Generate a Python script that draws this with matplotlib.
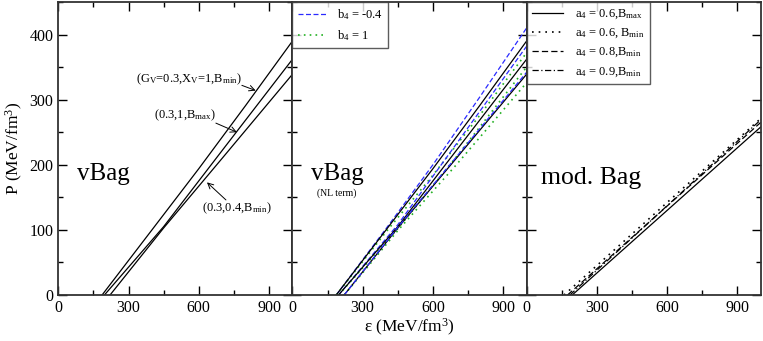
import matplotlib
matplotlib.use("Agg")
import matplotlib.pyplot as plt
from matplotlib.ticker import MultipleLocator

plt.rcParams['font.family'] = ['Liberation Serif', 'DejaVu Serif']
plt.rcParams['mathtext.fontset'] = 'custom'
plt.rcParams['mathtext.rm'] = 'Liberation Serif'
plt.rcParams['mathtext.it'] = 'Liberation Serif:italic'

# ---------------- data ----------------
# Panel 1: vBag
epsA = [187, 400, 600, 800, 1000]
PA = [0, 100, 194, 291, 390]
epsB = [197, 450, 700, 1000]
PB = [0, 105, 222, 362]
epsC = [221, 450, 700, 1000]
PC = [0, 103, 210, 339]

# Panel 2: vBag (NL term)
PA_blue = [0, 102, 200, 304, 410]
PA_green = [0, 97, 184, 276, 372]
PB_blue = [0, 108, 232, 382]
PB_green = [0, 102, 212, 350]
PC_blue = [0, 104, 212, 342]
PC_green = [0, 99, 200, 326]

# Panel 3: mod. Bag
eps_m1 = [195, 1000]; P_m1 = [0, 258]   # a4=0.6, Bmax (solid)
eps_m2 = [160, 1000]; P_m2 = [0, 271]   # a4=0.6, Bmin (dotted)
eps_m3 = [175, 1000]; P_m3 = [0, 265]   # a4=0.8, Bmin (dashed)
eps_m4 = [185, 1000]; P_m4 = [0, 269]   # a4=0.9, Bmin (dash-dot)

xticks = [0, 300, 600, 900]
yticks = [0, 100, 200, 300, 400]

fig = plt.figure(figsize=(7.63, 3.41), dpi=100)
fig.subplots_adjust(left=58.3/763, right=760.7/763, bottom=46/341, top=339/341, wspace=0)
axs = fig.subplots(1, 3, sharey=True)

for ax in axs:
    ax.set_xlim(0, 1000)
    ax.set_ylim(0, 450)
    ax.xaxis.set_major_locator(MultipleLocator(300))
    ax.xaxis.set_minor_locator(MultipleLocator(150))
    ax.yaxis.set_major_locator(MultipleLocator(100))
    ax.yaxis.set_minor_locator(MultipleLocator(50))
    ax.tick_params(which='both', direction='in', top=True, right=True, labelsize=11.5, colors='black')
    ax.tick_params(which='major', length=6.5, width=1.0)
    ax.tick_params(which='minor', length=3.6, width=1.0)
    ax.set_xticks(xticks)
    for s in ax.spines.values():
        s.set_linewidth(1.3)
        s.set_color('#333333')

ax1, ax2, ax3 = axs
ax1.set_yticks(yticks)
ax1.tick_params(axis='y', labelleft=True)
ax2.tick_params(axis='y', labelleft=False)
ax3.tick_params(axis='y', labelleft=False)

lw = 0.9
# Panel 1
ax1.plot(epsA, PA, color='black', lw=lw)
ax1.plot(epsB, PB, color='black', lw=lw)
ax1.plot(epsC, PC, color='black', lw=lw)
ax1.text(80, 186, 'vBag', fontsize=18, va='center', ha='left')
ax1.set_ylabel('P (MeV/fm$^3$)', fontsize=12.5, labelpad=3)

arrow_kw = dict(arrowstyle='->', color='black', lw=0.7, shrinkA=0, shrinkB=0)
ax1.annotate('', xy=(843, 314), xytext=(784, 322), arrowprops=arrow_kw)
ax1.text(782, 331, '(G$_{\\rm V}$=0.3,X$_{\\rm V}$=1,B$_{\\rm min}$)', fontsize=9, ha='right', va='center')
ax1.annotate('', xy=(763, 250), xytext=(673, 264), arrowprops=arrow_kw)
ax1.text(673, 276, '(0.3,1,B$_{\\rm max}$)', fontsize=9, ha='right', va='center')
ax1.annotate('', xy=(635, 173), xytext=(716, 146), arrowprops=arrow_kw)
ax1.text(612, 133, '(0.3,0.4,B$_{\\rm min}$)', fontsize=9, ha='left', va='center')

# Panel 2
blue = '#2a2aff'
green = '#22b022'
lb, = ax2.plot(epsA, PA_blue, color=blue, lw=lw, ls=(0, (4, 2)))
lg, = ax2.plot(epsA, PA_green, color=green, lw=1.2, ls=(0, (1, 2.5)))
ax2.plot(epsA, PA, color='black', lw=lw)
ax2.plot(epsB, PB_blue, color=blue, lw=lw, ls=(0, (4, 2)))
ax2.plot(epsB, PB_green, color=green, lw=1.2, ls=(0, (1, 2.5)))
ax2.plot(epsB, PB, color='black', lw=lw)
ax2.plot(epsC, PC_green, color=green, lw=1.2, ls=(0, (1, 2.5)))
ax2.plot(epsC, PC, color='black', lw=lw)
ax2.plot(epsC, PC_blue, color=blue, lw=lw, ls=(0, (4, 2)))
ax2.text(80, 186, 'vBag', fontsize=18, va='center', ha='left')
ax2.text(190, 156, '(NL term)', fontsize=7, va='center', ha='center')
leg2 = ax2.legend([lb, lg], ['b$_4$ = -0.4', 'b$_4$ = 1'], loc='upper left',
                  bbox_to_anchor=(0, 1), fontsize=9, frameon=True, fancybox=False,
                  edgecolor='#333333', handlelength=2.3, handletextpad=0.8,
                  borderaxespad=0, borderpad=0.45, labelspacing=0.45)
leg2.get_frame().set_linewidth(1.0)
ax2.set_xlabel('ε (MeV/fm$^3$)', fontsize=12.5, labelpad=1)

# Panel 3
m1, = ax3.plot(eps_m1, P_m1, color='black', lw=lw, ls='-')
m2, = ax3.plot(eps_m2, P_m2, color='black', lw=1.2, ls=(0, (1, 3)))
m3, = ax3.plot(eps_m3, P_m3, color='black', lw=lw, ls=(0, (5, 2.5)))
m4, = ax3.plot(eps_m4, P_m4, color='black', lw=lw, ls=(0, (5, 2, 1, 2)))
ax3.text(63, 180, 'mod. Bag', fontsize=18.5, va='center', ha='left')
leg3 = ax3.legend([m1, m2, m3, m4],
                  ['a$_4$ = 0.6,B$_{\\rm max}$', 'a$_4$ = 0.6, B$_{\\rm min}$',
                   'a$_4$ = 0.8,B$_{\\rm min}$', 'a$_4$ = 0.9,B$_{\\rm min}$'],
                  loc='upper left', bbox_to_anchor=(0, 1), fontsize=9, frameon=True,
                  fancybox=False, edgecolor='#333333', handlelength=2.5, handletextpad=0.9,
                  borderaxespad=0, borderpad=0.45, labelspacing=0.45)
leg3.get_frame().set_linewidth(1.0)

fig.savefig('out.png', dpi=100)
